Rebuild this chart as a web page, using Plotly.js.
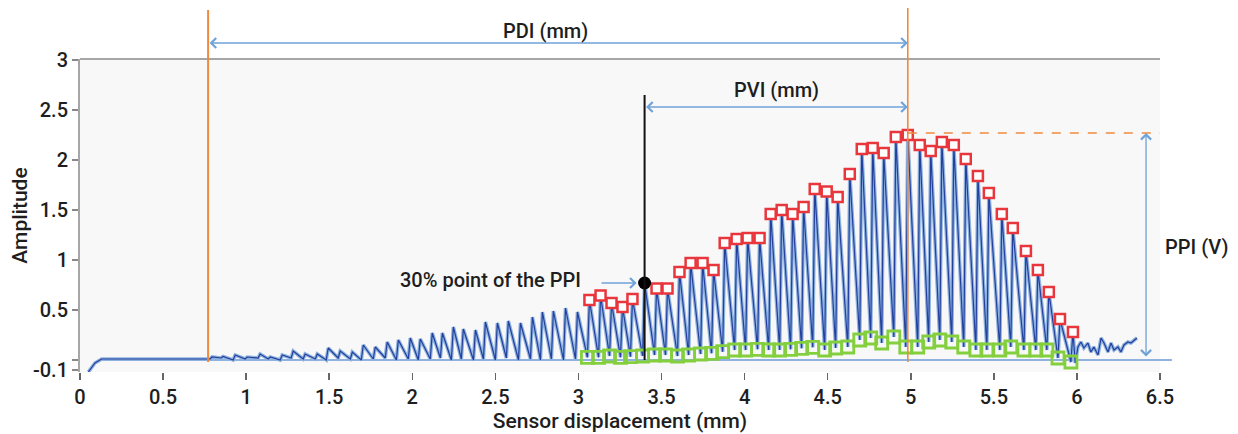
<!DOCTYPE html>
<html>
<head>
<meta charset="utf-8">
<script src="https://cdn.plot.ly/plotly-3.0.1.min.js"></script>
<style>html,body{margin:0;padding:0;background:#fff;}#chart{width:1238px;height:434px;}</style>
</head>
<body>
<div id="chart"></div>
<script>
// ---- data (x in mm, y in amplitude) ----
const startX = [0.05, 0.07, 0.09, 0.13, 0.771];
const startY = [-0.12, -0.08, -0.03, 0.01, 0.01];

const peakX = [0.795,0.861,0.934,1.006,1.084,1.145,1.217,1.283,1.355,1.428,1.494,1.566,1.639,1.705,1.777,1.849,1.916,1.988,2.048,2.120,2.181,2.247,2.307,2.380,2.440,2.512,2.578,2.651,2.723,2.783,2.849,2.922,2.994,
  3.066,3.133,3.199,3.265,3.325,3.398,3.470,3.536,3.608,3.675,3.747,3.813,3.880,3.952,4.018,4.090,4.157,4.223,4.289,4.355,4.422,4.494,4.560,4.633,4.705,4.771,4.837,4.910,4.982,5.054,5.120,5.187,5.259,5.331,5.404,5.470,5.548,5.614,5.693,5.765,5.831,5.898,5.976];
const peakY = [0.03,0.035,0.05,0.03,0.06,0.03,0.05,0.09,0.06,0.06,0.12,0.09,0.08,0.15,0.13,0.18,0.20,0.22,0.21,0.27,0.27,0.33,0.31,0.30,0.38,0.37,0.39,0.37,0.43,0.48,0.49,0.52,0.48,
  0.60,0.645,0.57,0.53,0.61,0.77,0.715,0.715,0.88,0.97,0.97,0.90,1.17,1.21,1.22,1.22,1.46,1.50,1.46,1.53,1.71,1.685,1.63,1.86,2.11,2.12,2.07,2.23,2.25,2.15,2.09,2.18,2.15,2.01,1.84,1.67,1.46,1.32,1.09,0.90,0.68,0.41,0.28];
const troughY = [0.01,0.02,0.0,0.01,0.02,0.01,0.0,0.02,0.01,0.01,0.0,0.02,0.01,0.0,0.01,0.02,0.0,0.01,0.0,0.01,0.02,0.0,0.01,0.0,0.01,0.0,0.02,0.0,0.01,0.0,0.01,0.0,0.01,
  0.027,0.027,0.04,0.027,0.033,0.04,0.05,0.05,0.04,0.05,0.06,0.067,0.083,0.10,0.10,0.107,0.10,0.10,0.107,0.117,0.127,
  0.10,0.12,0.13,0.20,0.22,0.17,0.23,0.13,0.13,0.18,0.20,0.18,0.13,0.10,0.10,0.10,0.13,0.10,0.10,0.10,0.02,-0.02];

const tailX = [5.99,6.006,6.024,6.042,6.066,6.084,6.102,6.127,6.145,6.163,6.187,6.205,6.223,6.247,6.265,6.283,6.307,6.325,6.343,6.361];
const tailY = [-0.03,0.13,0.18,0.12,0.17,0.08,0.13,0.05,0.22,0.17,0.08,0.17,0.10,0.13,0.08,0.15,0.18,0.17,0.20,0.22];

const firstMarkedX = 3.0;      // peaks/troughs flagged from here on
const ppi30X = 3.398, ppi30Y = 0.77;   // 30% point of the PPI
const pdiStartX = 0.771, peakPosX = 4.982, ppiLevel = 2.27;

const xTickVals = [0,0.5,1,1.5,2,2.5,3,3.5,4,4.5,5,5.5,6,6.5];
const xTickText = ['0','0.5','1','1.5','2','2.5','3','3.5','4','4.5','5','5.5','6','6.5'];
const yTickVals = [-0.1,0,0.5,1,1.5,2,2.5,3];
const yTickText = ['-0.1','','0.5','1','1.5','2','2.5','3'];

// ---- build waveform ----
const riseWidth = 0.012;
const troughX = peakX.map(x => x - riseWidth);
const wx = [...startX], wy = [...startY];
for (let i = 0; i < peakX.length; i++) {
  wx.push(troughX[i]); wy.push(troughY[i]);
  wx.push(peakX[i]); wy.push(peakY[i]);
}
wx.push(...tailX); wy.push(...tailY);

const redX = [], redY = [], grX = [], grY = [];
for (let i = 0; i < peakX.length; i++) {
  if (peakX[i] < firstMarkedX) continue;
  grX.push(troughX[i]); grY.push(troughY[i]);
  if (peakX[i] === ppi30X) continue;
  redX.push(peakX[i]); redY.push(peakY[i]);
}

const FONT = 'Roboto, "Open Sans", sans-serif';
const blueLight = '#8fb2df', blueDark = '#22409c', orange = '#ef8a3e', arrowBlue = '#6fa3d8';

const traces = [
  {x: wx, y: wy, mode: 'lines', line: {color: blueLight, width: 3.6}, hoverinfo: 'skip'},
  {x: wx, y: wy, mode: 'lines', line: {color: blueDark, width: 1.2}},
  {x: grX, y: grY, mode: 'markers', marker: {symbol: 'square-open', size: 12, color: '#84cf3e', line: {width: 2.8}}},
  {x: redX, y: redY, mode: 'markers', marker: {symbol: 'square', size: 10, color: '#ffffff', line: {color: '#e8363c', width: 2.5}}},
  {x: [ppi30X], y: [ppi30Y], mode: 'markers', marker: {size: 13, color: '#000'}}
];

const H = 313; // plot height in px for paper conversions
const arrowStyle = {showarrow: true, arrowhead: 4, startarrowhead: 4, arrowsize: 1.5, startarrowsize: 1.5, arrowwidth: 1.3, arrowcolor: arrowBlue, text: ''};
const txt = {showarrow: false, xanchor: 'center', yanchor: 'middle', font: {size: 20, color: '#1e1e1e', weight: 500}};
const layout = {
  width: 1238, height: 434,
  margin: {l: 80, r: 78, t: 59, b: 62},
  paper_bgcolor: '#ffffff', plot_bgcolor: '#f8f8f8',
  showlegend: false,
  font: {family: FONT, size: 20, color: '#1e1e1e', weight: 500},
  xaxis: {range: [0, 6.5], tickvals: xTickVals, ticktext: xTickText, ticks: 'outside', ticklen: 7, tickwidth: 1.5, tickcolor: '#666',
    tickfont: {size: 20, weight: 500},
    showgrid: false, zeroline: false, showline: false,
    title: {text: 'Sensor displacement (mm)', font: {size: 21, weight: 500}, standoff: 4}},
  yaxis: {range: [-0.12, 3.01], tickvals: yTickVals, ticktext: yTickText, ticks: 'outside', ticklen: 6, tickwidth: 1.5, tickcolor: '#888',
    tickfont: {size: 20, weight: 500},
    showgrid: false, zeroline: false, showline: true, linecolor: '#a6a6a6', linewidth: 2,
    title: {text: 'Amplitude', font: {size: 21, weight: 500}, standoff: 0}},
  shapes: [
    {type: 'line', xref: 'paper', yref: 'paper', x0: 0, x1: 1, y0: 1, y1: 1, line: {color: '#a6a6a6', width: 2}},
    {type: 'line', xref: 'paper', yref: 'y', x0: 0.02, x1: 1.011, y0: 0, y1: 0, layer: 'below', line: {color: blueLight, width: 2}},
    {type: 'line', xref: 'x', yref: 'paper', x0: pdiStartX, x1: pdiStartX, y0: 10/H, y1: 362/H, line: {color: orange, width: 2}},
    {type: 'line', xref: 'x', yref: 'paper', x0: peakPosX, x1: peakPosX, y0: 10/H, y1: 364/H, line: {color: orange, width: 1.6}},
    {type: 'line', xref: 'x', yref: 'y', x0: ppi30X, x1: ppi30X, y0: 0, y1: 2.65, line: {color: '#111', width: 2}},
    {type: 'line', xref: 'x', yref: 'y', x0: peakPosX, x1: 6.5, y0: ppiLevel, y1: ppiLevel, line: {color: orange, width: 1.6, dash: 'dash'}}
  ],
  annotations: [
    Object.assign({xref: 'x', yref: 'paper', x: peakPosX, y: 329/H, axref: 'x', ax: pdiStartX, ayref: 'pixel', ay: 0, arrowside: 'end+start'}, arrowStyle),
    Object.assign({xref: 'x', yref: 'paper', x: 2.80, y: 341/H, text: 'PDI (mm)'}, txt),
    Object.assign({xref: 'x', yref: 'y', x: peakPosX, y: 2.53, axref: 'x', ax: ppi30X, ayref: 'pixel', ay: 0, arrowside: 'end+start'}, arrowStyle),
    Object.assign({xref: 'x', yref: 'y', x: 4.19, y: 2.70, text: 'PVI (mm)'}, txt),
    Object.assign({xref: 'x', yref: 'y', x: 6.416, y: ppiLevel, axref: 'pixel', ax: 0, ayref: 'y', ay: 0.02, arrowside: 'end+start'}, arrowStyle),
    Object.assign({xref: 'paper', yref: 'y', x: 1.034, y: 1.13, text: 'PPI (V)'}, txt),
    Object.assign({xref: 'x', yref: 'y', x: 3.35, y: ppi30Y, axref: 'x', ax: 3.13, ayref: 'pixel', ay: 0, arrowside: 'end'}, arrowStyle),
    Object.assign({xref: 'x', yref: 'y', x: 2.47, y: 0.80, text: '30% point of the PPI'}, txt)
  ]
};

Plotly.newPlot('chart', traces, layout, {displayModeBar: false, staticPlot: true});
</script>
</body>
</html>
